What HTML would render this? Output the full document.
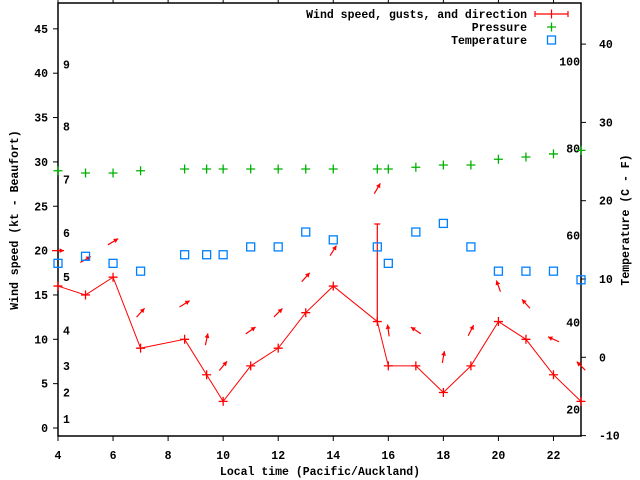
<!DOCTYPE html>
<html><head><meta charset="utf-8"><style>
html,body{margin:0;padding:0;background:#fff;}
svg{display:block;font-family:"Liberation Mono",monospace;font-weight:bold;font-size:11.5px;}
</style></head><body>
<svg id="chart" width="640" height="480" viewBox="0 0 640 480" xmlns="http://www.w3.org/2000/svg"></svg>
<script>
const hours=[4,5,6,7,8.6,9.4,10,11,12,13,14,15.6,16,17,18,19,20,21,22,23];
const windSpeed=[16,15,17,9,10,6,3,7,9,13,16,12,7,7,4,7,12,10,6,3];
const gustHours=[15.6];
const gustValues=[23];
const gustBase=[12];
const pressure=[29.0,28.75,28.75,29.0,29.2,29.2,29.2,29.2,29.2,29.2,29.2,29.2,29.2,29.4,29.65,29.65,30.3,30.55,30.9,31.3];
const temperature=[12,12.9,12,11,13.1,13.1,13.1,14.1,14.1,16,15,14.1,12,16,17.1,14.1,11,11,11,9.9];
const arrowLevel=[20,19,21,13,14,10,7,11,13,17,20,27,11,11,8,11,16,14,10,7];
const arrowAngle=[0,30,31,48,32,78,50,35,45,48,58,60,98,146,80,63,110,132,156,135];
const xTicks=[4,6,8,10,12,14,16,18,20,22];
const yTicks=[0,5,10,15,20,25,30,35,40,45];
const cTicks=[-10,0,10,20,30,40];
const fTicks=[20,40,60,80,100];
const beaufortKt=[1,4,7,11,17,22,28,34,41];
const beaufortLabels=["1","2","3","4","5","6","7","8","9"];

const L=58,R=581,T=3,B=436;
const X=v=>L+(v-4)*(R-L)/19;
const Y=v=>428-v*8.87;
const YC=c=>357.3-c*7.83;
const YF=f=>YC((f-32)*5/9);
const svg=document.getElementById('chart');
const NS='http://www.w3.org/2000/svg';
function mk(tag,attrs,parent){const e=document.createElementNS(NS,tag);for(const k in attrs)e.setAttribute(k,attrs[k]);(parent||svg).appendChild(e);return e;}
function txt(s,x,y,anchor,extra){const e=mk('text',Object.assign({x:x,y:y,'text-anchor':anchor||'start'},extra||{}));e.textContent=s;return e;}

let e=mk('rect',{x:L,y:T,width:R-L,height:B-T,fill:'none',stroke:'#000','stroke-width':1.5});



xTicks.forEach(v=>{
  let t=mk('line',{x1:X(v),x2:X(v),y1:B,y2:B+5,stroke:'#000'});
  
  
  mk('line',{x1:X(v),x2:X(v),y1:T,y2:T-5,stroke:'#000'});
  let l=txt(String(v),X(v),459,'middle');
  
  
});
yTicks.forEach(v=>{
  let t=mk('line',{x1:L-5,x2:L,y1:Y(v),y2:Y(v),stroke:'#000'});
  
  
  let l=txt(String(v),48,Y(v)+4,'end');
  
  
});
cTicks.forEach(v=>{
  let t=mk('line',{x1:R,x2:R+5,y1:YC(v),y2:YC(v),stroke:'#000'});
  
  
  let l=txt(String(v),599,YC(v)+4,'start');
  
  
});
fTicks.forEach(v=>{
  let l=txt(String(v),580,YF(v)+4,'end');
  
  
});
beaufortKt.forEach((v,i)=>{
  let l=txt(beaufortLabels[i],63,Y(v)+4,'start');
  
  
});

let xt=txt('Local time (Pacific/Auckland)',320,475,'middle');


let yt=txt('Wind speed (kt - Beaufort)',0,0,'middle',{transform:'translate(18,220) rotate(-90)'});


let y2t=txt('Temperature (C - F)',0,0,'middle',{transform:'translate(629,220) rotate(-90)'});



const clip=mk('clipPath',{id:'pc'});
mk('rect',{x:L-6,y:T,width:R-L+12,height:B-T},clip);

// wind line
let pts=hours.map((h,i)=>X(h)+','+Y(windSpeed[i])).join(' ');
let wl=mk('polyline',{points:pts,fill:'none',stroke:'#f00','stroke-width':1});


function plus(x,y,c,name){const g=mk('path',{d:`M${x-4.5},${y}h9M${x},${y-4.5}v9`,stroke:c,'stroke-width':1.3,fill:'none'});}
hours.forEach((h,i)=>plus(X(h),Y(windSpeed[i]),'#f00','wind-point'));
gustHours.forEach((h,i)=>{
  const g=mk('path',{d:`M${X(h)},${Y(gustBase[i])}V${Y(gustValues[i])}M${X(h)-3},${Y(gustValues[i])}h6`,stroke:'#f00','stroke-width':1.2,fill:'none'});
  
  
});
// arrows
hours.forEach((h,i)=>{
  const a=arrowAngle[i]*Math.PI/180,len=12;
  const cx=X(h),cy=Y(arrowLevel[i]);
  const dx=Math.cos(a)*len/2,dy=-Math.sin(a)*len/2;
  const x1=cx-dx,y1=cy-dy,x2=cx+dx,y2=cy+dy;
  const hl=5,ha=0.5;
  const b=Math.atan2(y2-y1,x2-x1);
  const p1=[x2-hl*Math.cos(b-ha),y2-hl*Math.sin(b-ha)],p2=[x2-hl*Math.cos(b+ha),y2-hl*Math.sin(b+ha)];
  const g=mk('g',{'clip-path':'url(#pc)'});
  
  
  mk('line',{x1:x1,y1:y1,x2:x2,y2:y2,stroke:'#f00','stroke-width':1.2},g);
  mk('polygon',{points:`${x2},${y2} ${p1[0]},${p1[1]} ${p2[0]},${p2[1]}`,fill:'#f00'},g);
});
hours.forEach((h,i)=>plus(X(h),Y(pressure[i]),'#00b000','pressure-point'));
hours.forEach((h,i)=>{
  const r=mk('rect',{x:X(h)-4,y:YC(temperature[i])-4,width:8,height:8,fill:'none',stroke:'#0080ff','stroke-width':1.3});
  
  
});

// legend
const lg=mk('g',{});


[['Wind speed, gusts, and direction',14],['Pressure',27],['Temperature',40]].forEach(([s,y])=>{
  const t=mk('text',{x:527,y:y+4,'text-anchor':'end'},lg);t.textContent=s;
  
  
});
mk('path',{d:'M535,14h33M535,11v6M568,11v6',stroke:'#f00','stroke-width':1.2,fill:'none'},lg);
mk('path',{d:'M551.5,9.5v9',stroke:'#f00','stroke-width':1.2},lg);
mk('path',{d:'M547,27h9M551.5,22.5v9',stroke:'#00b000','stroke-width':1.3},lg);
mk('rect',{x:547.5,y:36,width:8,height:8,fill:'none',stroke:'#0080ff','stroke-width':1.3},lg);
</script>
</body></html>
